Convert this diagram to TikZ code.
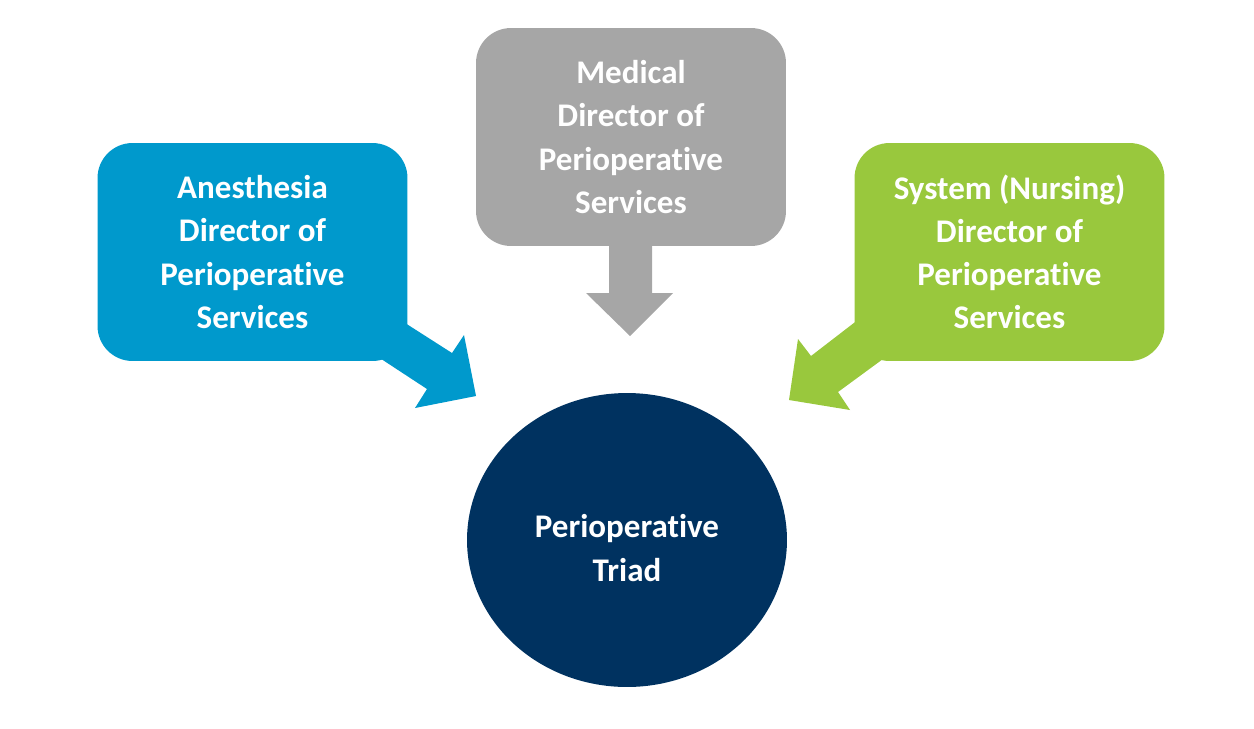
\documentclass[tikz,border=0pt]{standalone}
\usepackage{fontspec}
\setmainfont{Carlito}[Ligatures=CommonOff]
\usetikzlibrary{shapes.geometric}
\definecolor{anesblue}{RGB}{0,153,204}
\definecolor{medgray}{RGB}{166,166,166}
\definecolor{nursegreen}{RGB}{153,200,61}
\definecolor{triadnavy}{RGB}{0,50,96}

\begin{document}
\begin{tikzpicture}[x=0.02cm,y=-0.02cm,
  every node/.style={font=\bfseries\fontsize{18.8}{24.6}\selectfont,text=white,align=center},
  rolebox/.style={rounded corners=0.7cm,minimum width=6.2cm,minimum height=4.36cm,inner sep=0pt}]
\useasboundingbox (0,0) rectangle (1254,728);
% block arrows towards the triad
\fill[anesblue] (391,314)--(452,353)--(464,335)--(476,396)--(415,408)--(427,389)--(366,349)--cycle;
\fill[medgray] (609,240)--(609,293)--(586,293)--(630,336)--(673,293)--(652,293)--(652,240)--cycle;
\fill[nursegreen] (872,309)--(811,356)--(798,339)--(789,400)--(850,410)--(838,392)--(898,348)--cycle;
% the three directors
\node[rolebox,fill=anesblue] (anes) at (252.5,252) {Anesthesia\\Director of\\Perioperative\\Services};
\node[rolebox,fill=medgray] (med) at (631,137) {Medical\\Director of\\Perioperative\\Services};
\node[rolebox,fill=nursegreen] (nurse) at (1009.5,252) {System (Nursing)\\Director of\\Perioperative\\Services};
% centre
\node[ellipse,fill=triadnavy,minimum width=6.4cm,minimum height=5.88cm,inner sep=0pt] (triad) at (627,540) {};
\node (triadtext) at ([yshift=-0.16cm]triad.center) {Perioperative\\Triad};
\end{tikzpicture}
\end{document}
